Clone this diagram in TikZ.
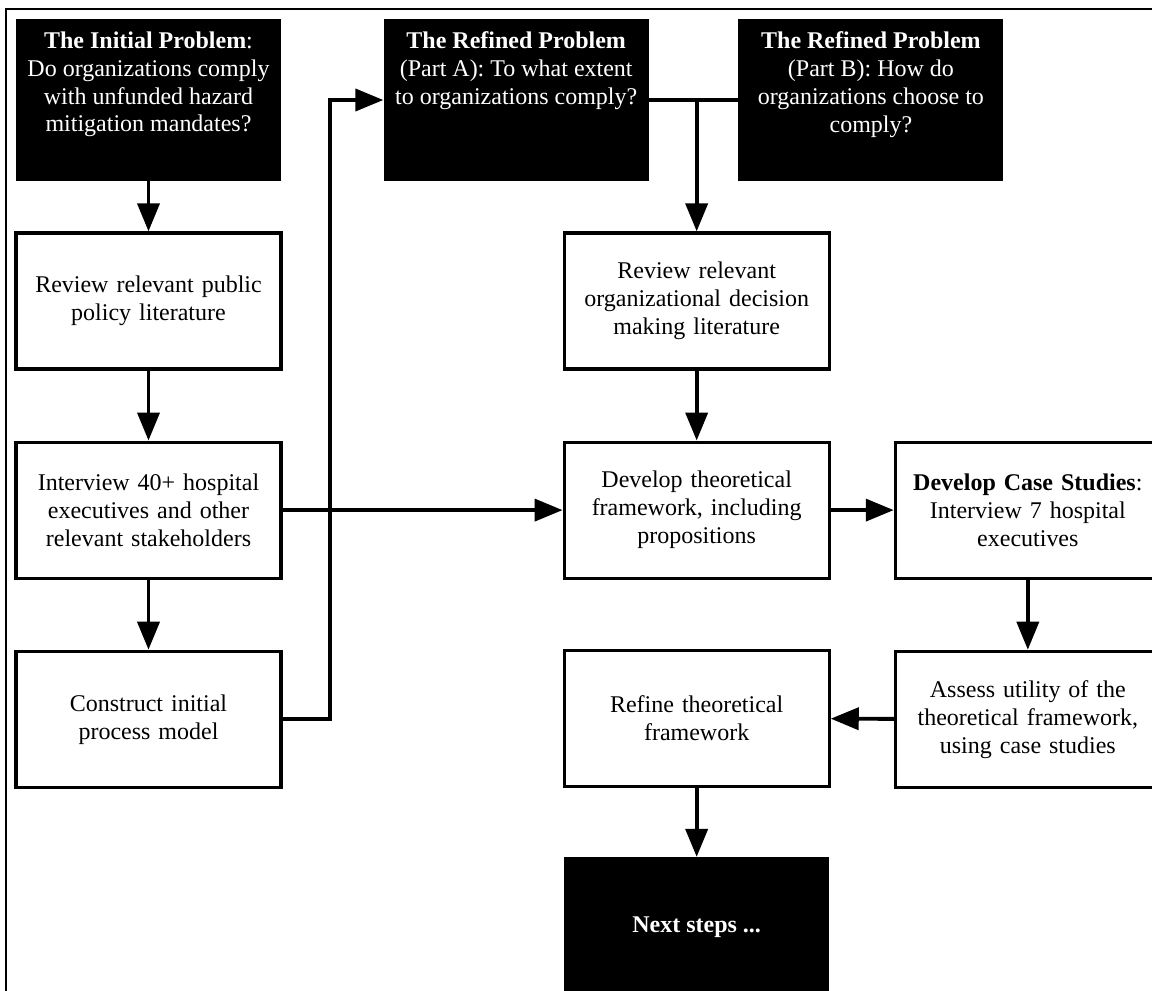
\documentclass[tikz,border=0pt]{standalone}
\usepackage{fontspec}
\setmainfont{Liberation Serif}
\usetikzlibrary{arrows.meta, positioning}
\newcommand{\probtext}[1]{\parbox[c][2.74cm][t]{4.9cm}{\centering #1}}

\begin{document}
\begin{tikzpicture}[
    font=\fontsize{13.65}{15.9}\selectfont,
    stepbox/.style={draw, line width=1.8pt, minimum width=5.3cm, minimum height=2.72cm, text width=4.9cm, align=center},
    probbox/.style={fill=black, text=white, minimum width=5.3cm, minimum height=3.24cm, inner xsep=0.2cm, inner ysep=0.25cm},
    endbox/.style={fill=black, text=white, minimum width=5.3cm, minimum height=2.8cm, font=\fontsize{13.65}{15.9}\selectfont\bfseries},
    arrow/.style={-{Triangle[length=0.56cm, width=0.44cm]}, line width=2.2pt},
    joinline/.style={line width=2.2pt}
  ]
  \useasboundingbox (0,0) rectangle (23.04,-19.8);
  \draw[line width=0.9pt] (0.12,-0.18) rectangle (24,-21);

  % problem statements
  \node[probbox] (init) at (2.97,-2.0) {\probtext{\textbf{The Initial Problem}:\\ Do organizations comply\\ with unfunded hazard\\ mitigation mandates?}};
  \node[probbox, right=2.04cm of init] (refA) {\probtext{\textbf{The Refined Problem}\\ (Part A): To what extent\\ to organizations comply?}};
  \node[probbox, right=1.78cm of refA] (refB) {\probtext{\textbf{The Refined Problem}\\ (Part B): How do\\ organizations choose to\\ comply?}};

  % left column
  \node[stepbox, below=1cm of init] (revpub) {Review relevant public\\ policy literature};
  \node[stepbox, below=1.4cm of revpub] (interview) {Interview 40+ hospital\\ executives and other\\ relevant stakeholders};
  \node[stepbox, below=1.4cm of interview] (construct) {Construct initial\\ process model};

  % middle column
  \node[stepbox, right=5.6cm of revpub] (revorg) {Review relevant\\ organizational decision\\ making literature};
  \node[stepbox, below=1.4cm of revorg] (develop) {Develop theoretical\\ framework, including\\ propositions};
  \node[stepbox, below=1.38cm of develop] (refine) {Refine theoretical\\ framework};
  \node[endbox, below=1.38cm of refine] (next) {Next steps ...};

  % right column
  \node[stepbox, right=1.26cm of develop] (case) {\textbf{Develop Case Studies}:\\ Interview 7 hospital\\ executives};
  \node[stepbox, below=1.4cm of case] (assess) {Assess utility of the\\ theoretical framework,\\ using case studies};

  \coordinate (join) at (revorg.north |- refA.east);

  \draw[arrow] (init) -- (revpub);
  \draw[arrow] (revpub) -- (interview);
  \draw[arrow] (interview) -- (construct);
  \draw[arrow] (construct.east) -- ++(0.94,0) |- (refA.west);
  \draw[arrow] (interview) -- (develop);
  \draw[joinline] (refA) -- (refB);
  \draw[arrow] (join) -- (revorg);
  \draw[arrow] (revorg) -- (develop);
  \draw[arrow] (develop) -- (case);
  \draw[arrow] (case) -- (assess);
  \draw[arrow] (assess) -- (refine);
  \draw[arrow] (refine) -- (next);
\end{tikzpicture}
\end{document}
